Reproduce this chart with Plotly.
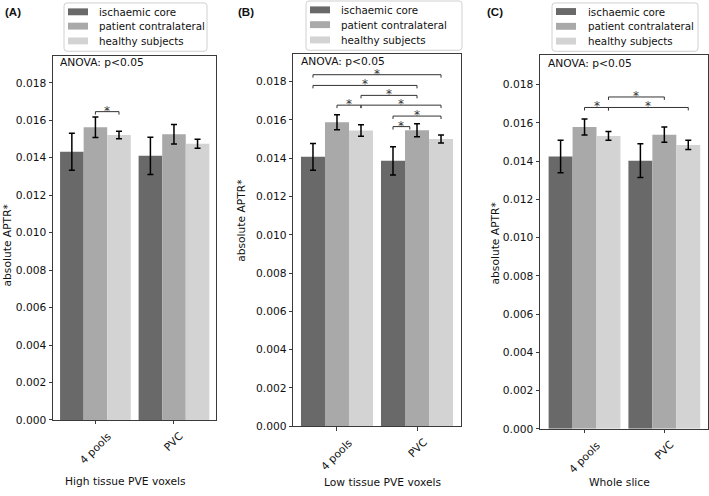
import plotly.graph_objects as go

W, H = 709, 496
FONT = "DejaVu Sans"
FS = 10.7
LFS = 10.3

categories = ["4 pools", "PVC"]
series_names = ["ischaemic core", "patient contralateral", "healthy subjects"]
colors = ["#696969", "#a9a9a9", "#d3d3d3"]

# Panel A: High tissue PVE voxels
a_ischaemic = [0.01432, 0.01410]
a_ischaemic_err = [0.00099, 0.00099]
a_contra = [0.01563, 0.01525]
a_contra_err = [0.00055, 0.00052]
a_healthy = [0.01521, 0.01474]
a_healthy_err = [0.00020, 0.00024]

# Panel B: Low tissue PVE voxels
b_ischaemic = [0.01407, 0.01386]
b_ischaemic_err = [0.00070, 0.00074]
b_contra = [0.01588, 0.01546]
b_contra_err = [0.00039, 0.00034]
b_healthy = [0.01545, 0.01500]
b_healthy_err = [0.00030, 0.00021]

# Panel C: Whole slice
c_ischaemic = [0.01425, 0.01403]
c_ischaemic_err = [0.00085, 0.00088]
c_contra = [0.01579, 0.01539]
c_contra_err = [0.00042, 0.00040]
c_healthy = [0.01532, 0.01485]
c_healthy_err = [0.00023, 0.00024]

y_ticks = [0.000, 0.002, 0.004, 0.006, 0.008, 0.010, 0.012, 0.014, 0.016, 0.018]

# significance brackets: (group1, slot1, group2, slot2, level)
a_brackets = [(0, 1, 0, 2, 0.01646)]
b_brackets = [(0, 0, 1, 2, 0.01836), (0, 0, 1, 1, 0.01780), (0, 2, 1, 1, 0.01728),
              (0, 1, 0, 2, 0.01677), (0, 2, 1, 2, 0.01677), (1, 0, 1, 2, 0.01620),
              (1, 0, 1, 0.7, 0.01565)]
c_brackets = [(0, 1, 0, 2, 0.01681), (0, 2, 1, 2, 0.01681), (0, 2, 1, 1, 0.01736)]

panels = [
    dict(letter="(A)", title="High tissue PVE voxels",
         series=[(a_ischaemic, a_ischaemic_err), (a_contra, a_contra_err), (a_healthy, a_healthy_err)],
         brackets=a_brackets,
         xpx=(53, 216), ypx=(57, 426), ytop=0.01942, xr=(-0.54, 1.535),
         legend=(64, 3, 207, 52, 68, 97, [12, 26.5, 41.5]),
         letter_pos=(3, 12.5), anova=(58, 63), ytitle=(7, 249), xtitle=(125, 488)),
    dict(letter="(B)", title="Low tissue PVE voxels",
         series=[(b_ischaemic, b_ischaemic_err), (b_contra, b_contra_err), (b_healthy, b_healthy_err)],
         brackets=b_brackets,
         xpx=(293.3, 460.7), ypx=(55, 432.3), ytop=0.01943, xr=(-0.546, 1.546),
         legend=(306, 1, 462, 51, 310, 339, [10, 25, 40.5]),
         letter_pos=(236, 12.5), anova=(299, 62), ytitle=(242, 224), xtitle=(382, 489)),
    dict(letter="(C)", title="Whole slice",
         series=[(c_ischaemic, c_ischaemic_err), (c_contra, c_contra_err), (c_healthy, c_healthy_err)],
         brackets=c_brackets,
         xpx=(540, 708.3), ypx=(55.7, 435), ytop=0.01956, xr=(-0.558, 1.551),
         legend=(552, 3, 698, 52, 556, 586, [11.7, 26.7, 41.7]),
         letter_pos=(485, 12.5), anova=(546, 64), ytitle=(496, 247), xtitle=(619, 489)),
]


def px(x):
    return x / W


def py(y):
    return 1 - y / H


fig = go.Figure()
shapes = []
annotations = []
BARW = 0.3

for i, p in enumerate(panels):
    sfx = "" if i == 0 else str(i + 1)
    xa, ya = "x" + sfx, "y" + sfx
    for k, (vals, errs) in enumerate(p["series"]):
        fig.add_trace(go.Bar(
            x=categories, y=vals, name=series_names[k], marker_color=colors[k],
            marker_line_width=0, xaxis=xa, yaxis=ya, showlegend=False,
            error_y=dict(type="data", array=errs, color="black", thickness=1.5, width=3),
        ))
    axis_common = dict(showline=True, mirror=True, linecolor="#3a3a3a", linewidth=1,
                       ticks="outside", ticklen=3.5, tickcolor="#3a3a3a", showgrid=False,
                       zeroline=False, tickfont=dict(family=FONT, size=FS, color="#111"))
    fig.layout["xaxis" + sfx] = dict(axis_common, domain=[px(p["xpx"][0]), px(p["xpx"][1])],
                                     anchor=ya, range=list(p["xr"]), type="category",
                                     showticklabels=False)
    fig.layout["yaxis" + sfx] = dict(axis_common, domain=[py(p["ypx"][1]), py(p["ypx"][0])],
                                     anchor=xa, range=[0, p["ytop"]], tickvals=y_ticks,
                                     tickformat=".3f")
    for j, c in enumerate(categories):
        annotations.append(dict(x=j, xref=xa, y=py(p["ypx"][1]), yref="paper", text=c,
                                showarrow=False, textangle=-45, xanchor="center", yanchor="top",
                                yshift=-7, font=dict(family=FONT, size=FS, color="#111")))
    hpx = p["ypx"][1] - p["ypx"][0]
    dy = 3 * p["ytop"] / hpx
    for (g1, s1, g2, s2, lev) in p["brackets"]:
        x1 = g1 + (s1 - 1) * BARW
        x2 = g2 + (s2 - 1) * BARW
        shapes.append(dict(type="path", xref=xa, yref=ya,
                           path=f"M {x1},{lev - dy} L {x1},{lev} L {x2},{lev} L {x2},{lev - dy}",
                           line=dict(color="#333333", width=1)))
        annotations.append(dict(x=(x1 + x2) / 2, xref=xa, y=lev, yref=ya, text="*",
                                showarrow=False, yanchor="bottom", xanchor="center", yshift=-7,
                                borderpad=0,
                                font=dict(family=FONT, size=12, color="#333333")))
    annotations.append(dict(x=px(p["letter_pos"][0]), y=py(p["letter_pos"][1]), xref="paper",
                            yref="paper", text="<b>" + p["letter"] + "</b>", showarrow=False,
                            xanchor="left", yanchor="middle",
                            font=dict(family="Liberation Sans", size=11.5, color="#111")))
    annotations.append(dict(x=px(p["anova"][0]), y=py(p["anova"][1]), xref="paper", yref="paper",
                            text="ANOVA: p<0.05", showarrow=False, xanchor="left", yanchor="middle",
                            font=dict(family=FONT, size=FS, color="#111")))
    annotations.append(dict(x=px(p["ytitle"][0]), y=py(p["ytitle"][1]), xref="paper", yref="paper",
                            text="absolute APTR*", showarrow=False, textangle=-90,
                            xanchor="center", yanchor="middle",
                            font=dict(family=FONT, size=FS, color="#111")))
    annotations.append(dict(x=px(p["xtitle"][0]), y=py(p["xtitle"][1]), xref="paper", yref="paper",
                            text=p["title"], showarrow=False, xanchor="center", yanchor="middle",
                            font=dict(family=FONT, size=FS, color="#111")))
    lx0, ly0, lx1, ly1, patch_x, text_x, rows = p["legend"]
    r = 3
    path = (f"M {px(lx0 + r)},{py(ly0)} L {px(lx1 - r)},{py(ly0)} "
            f"Q {px(lx1)},{py(ly0)} {px(lx1)},{py(ly0 + r)} L {px(lx1)},{py(ly1 - r)} "
            f"Q {px(lx1)},{py(ly1)} {px(lx1 - r)},{py(ly1)} L {px(lx0 + r)},{py(ly1)} "
            f"Q {px(lx0)},{py(ly1)} {px(lx0)},{py(ly1 - r)} L {px(lx0)},{py(ly0 + r)} "
            f"Q {px(lx0)},{py(ly0)} {px(lx0 + r)},{py(ly0)} Z")
    shapes.append(dict(type="path", xref="paper", yref="paper", path=path,
                       line=dict(color="#d0d0d0", width=1), fillcolor="white"))
    for k, ry in enumerate(rows):
        shapes.append(dict(type="rect", xref="paper", yref="paper",
                           x0=px(patch_x), x1=px(patch_x + 20), y0=py(ry - 3.5), y1=py(ry + 3.5),
                           line=dict(width=0), fillcolor=colors[k]))
        annotations.append(dict(x=px(text_x), y=py(ry), xref="paper", yref="paper",
                                text=series_names[k], showarrow=False, xanchor="left",
                                yanchor="middle", font=dict(family=FONT, size=LFS, color="#111")))

fig.update_layout(width=W, height=H, margin=dict(l=0, r=0, t=0, b=0), autosize=False,
                  barmode="group", bargap=0.1, bargroupgap=0, plot_bgcolor="white",
                  paper_bgcolor="white", shapes=shapes, annotations=annotations,
                  font=dict(family=FONT, size=FS, color="#111"), showlegend=False)

fig.write_html("out.html", config={"displayModeBar": False},
               post_script="document.body.style.margin='0';document.body.style.overflow='hidden';")
